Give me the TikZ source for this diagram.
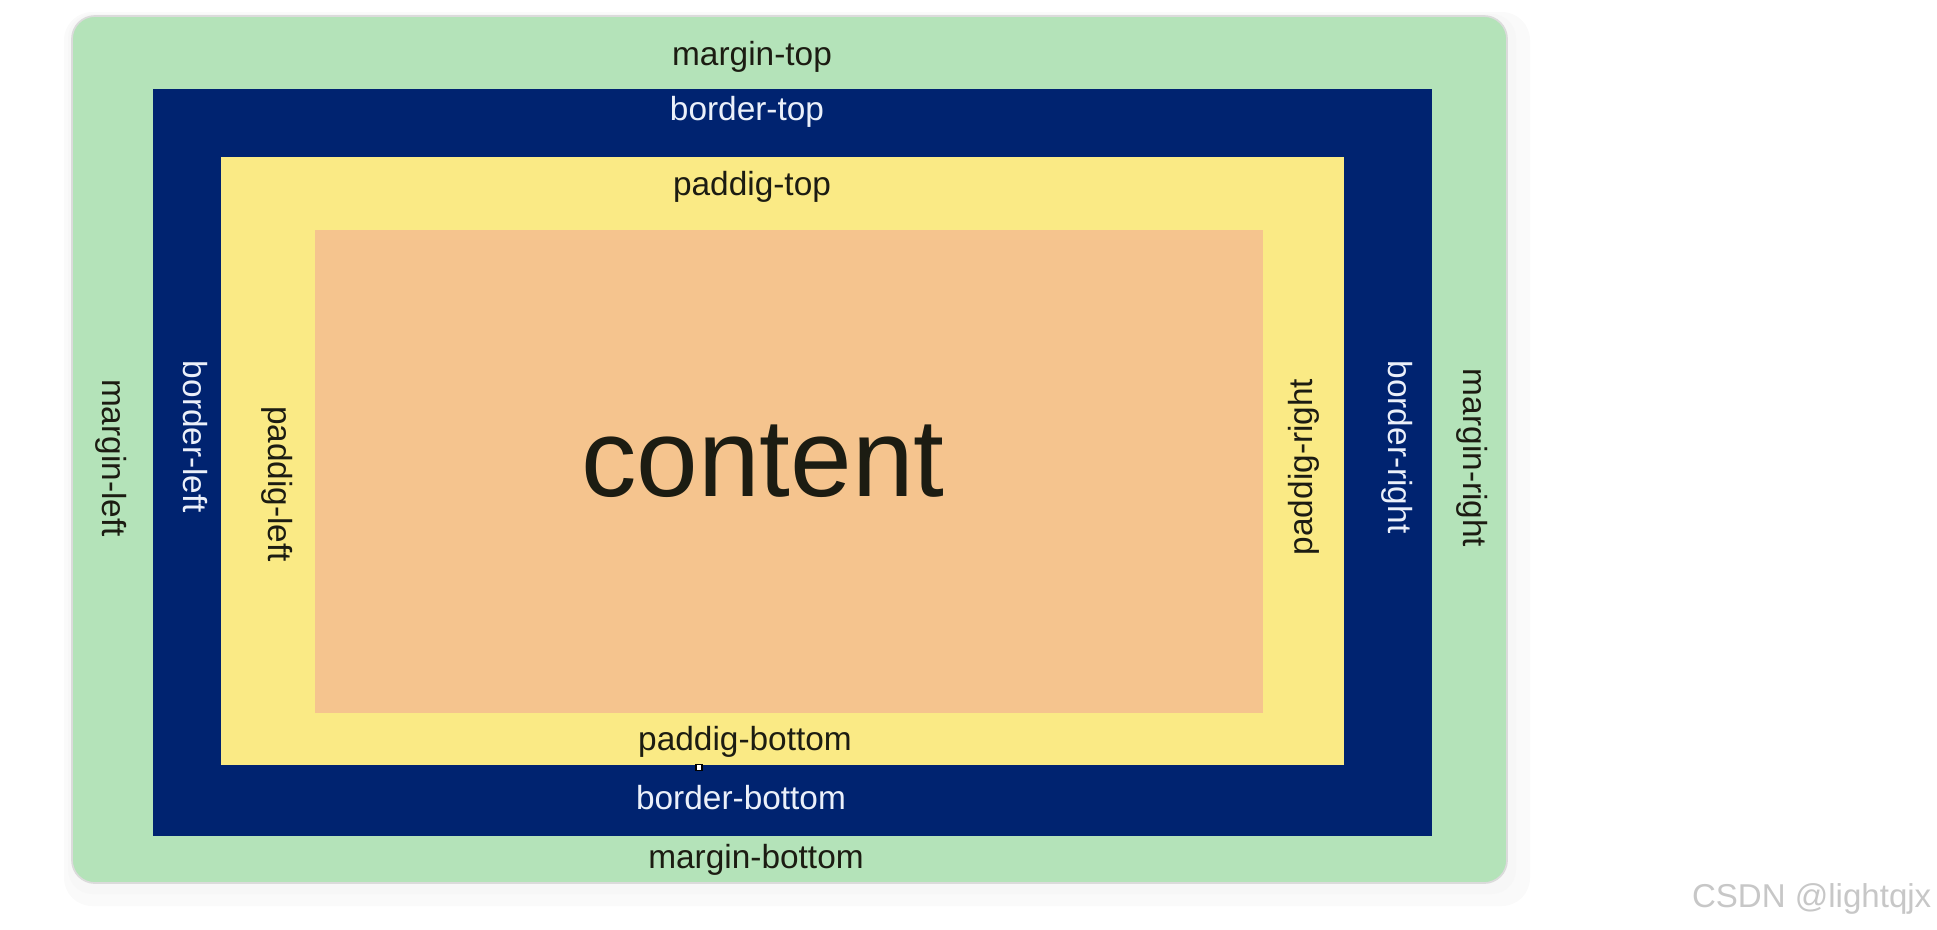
\documentclass[tikz,border=0pt]{standalone}
\usepackage{fontspec}
\setmainfont{Liberation Sans}
\usetikzlibrary{positioning}
\definecolor{margingreen}{HTML}{B4E3B9}
\definecolor{bordernavy}{HTML}{002370}
\definecolor{padyellow}{HTML}{FAEA85}
\definecolor{contentorange}{HTML}{F5C48E}
\definecolor{inkdark}{HTML}{1C1C12}
\definecolor{inklight}{HTML}{EBF0FA}

\begin{document}
\begin{tikzpicture}[
    x=0.01cm, y=-0.01cm,
    lbl/.style={font=\fontsize{9.5}{11}\selectfont, text=inkdark, inner sep=0pt, anchor=base},
    lblw/.style={lbl, text=inklight},
    side/.style={font=\fontsize{9.5}{11}\selectfont, text=inkdark, inner sep=0pt, rotate=-90},
    sidew/.style={side, text=inklight},
    big/.style={font=\fontsize{31.5}{36}\selectfont, text=inkdark, inner sep=0pt},
    wmark/.style={font=\fontsize{9.4}{11}\selectfont, text=black!22, inner sep=0pt, anchor=base east},
]
\useasboundingbox (0,0) rectangle (1937,929);

% Shadow
\fill[black!2, rounded corners=8pt] (64,12) rectangle (1530,906);
\fill[black!3, rounded corners=7pt] (68,14) rectangle (1516,894);

% Box layers
\fill[margingreen, draw=black!14, line width=0.5pt, rounded corners=6.5pt] (72,16) rectangle (1507,883);
\fill[bordernavy]    (153,89)  rectangle (1432,836);
\fill[padyellow]     (221,157) rectangle (1344,765);
\fill[contentorange] (315,230) rectangle (1263,713);

% Top and bottom labels
\node[lbl]  (mtop) at (752,65)  {margin-top};
\node[lblw] (btop) at (747,120) {border-top};
\node[lbl]  (ptop) at (752,195) {paddig-top};
\node[lbl]  (pbot) at (745,750) {paddig-bottom};
\node[lblw] (bbot) at (741,809) {border-bottom};
\node[lbl]  (mbot) at (756,868) {margin-bottom};

% Side labels
\node[side]  (mleft)  at (111,458)  {margin-left};
\node[sidew] (bleft)  at (195,437)  {border-left};
\node[side]  (pleft)  at (277,484)  {paddig-left};
\node[side, rotate=180] (pright) at (1304,467) {paddig-right};
\node[sidew] (bright) at (1397,447) {border-right};
\node[side]  (mright) at (1472,458) {margin-right};

% Content
\node[big] (content) at (763,461) {content};

% Cursor speck
\draw[black, fill=white, line width=0.3pt] (696,764) rectangle (702,770);

% Watermark
\node[wmark] (wm) at (1932,907) {CSDN @lightqjx};
\end{tikzpicture}
\end{document}
